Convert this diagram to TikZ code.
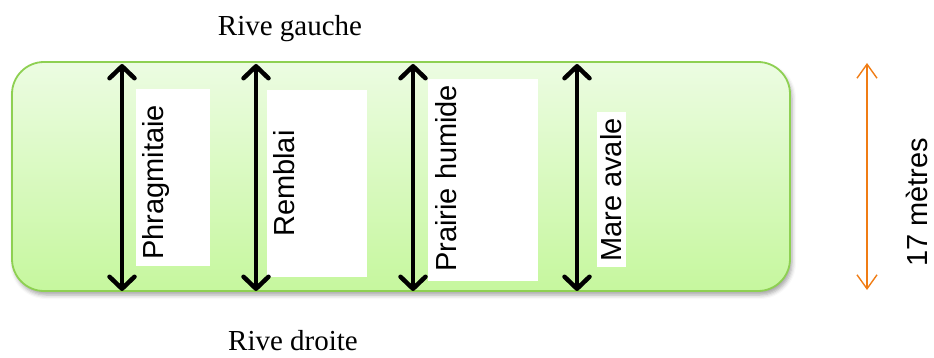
\documentclass[tikz,border=0pt]{standalone}
\usepackage{fontspec}
\setmainfont{Liberation Serif}
\newfontfamily\labelsans{Liberation Sans}
\usetikzlibrary{arrows.meta,shadows.blur}

\definecolor{bandtop}{RGB}{236,252,226}
\definecolor{bandbot}{RGB}{198,247,158}
\definecolor{bandrim}{RGB}{142,208,82}
\definecolor{spanorange}{RGB}{240,124,20}

\tikzset{
  band/.style={draw=bandrim, line width=1.8pt, rounded corners=32pt,
    top color=bandtop, bottom color=bandbot,
    blur shadow={shadow xshift=2pt, shadow yshift=-4pt,
                 shadow blur radius=4pt, shadow opacity=35}},
  zonearrow/.style={line width=4.5pt, line cap=round, line join=round,
    {Straight Barb[length=12pt,width=25pt,line cap=round,line join=round]}-{Straight Barb[length=12pt,width=25pt,line cap=round,line join=round]}},
  spanarrow/.style={draw=spanorange, line width=1.4pt,
    {Straight Barb[length=14pt,width=20pt]}-{Straight Barb[length=14pt,width=20pt]}},
  labelbox/.style={fill=white, draw=none},
  zonelabel/.style={rotate=90, anchor=base west, inner sep=0pt,
    font=\labelsans\fontsize{29}{30}\selectfont},
  bank/.style={anchor=base, inner sep=0pt, font=\fontsize{29}{30}\selectfont}
}

\begin{document}
\begin{tikzpicture}[x=1pt,y=-1pt]
  \useasboundingbox (0,0) rectangle (934,358);

  % the strip of land between the two banks
  \node[band, minimum width=778pt, minimum height=229pt, inner sep=0pt]
    (strip) at (401,176.5) {};

  % white panels behind the zone names
  \fill[labelbox] (136,89) rectangle (210,266);
  \fill[labelbox] (267,90) rectangle (367,277);
  \fill[labelbox] (428,79) rectangle (538,281);
  \fill[labelbox] (597,112) rectangle (626,267);

  % ends of the zone arrows
  \coordinate (phT) at (122,64);  \coordinate (phB) at (122,291);
  \coordinate (reT) at (256,64);  \coordinate (reB) at (256,291);
  \coordinate (prT) at (413,64);  \coordinate (prB) at (413,291);
  \coordinate (maT) at (577,64);  \coordinate (maB) at (577,291);
  \draw[zonearrow] (phT) -- (phB);
  \draw[zonearrow] (reT) -- (reB);
  \draw[zonearrow] (prT) -- (prB);
  \draw[zonearrow] (maT) -- (maB);

  % zone names
  \node[zonelabel] (phr) at (163,260) {Phragmitaie};
  \node[zonelabel] (rem) at (294,237) {Remblai};
  \node[zonelabel] (pra) at (456,272) {Prairie humide};
  \node[zonelabel] (mar) at (621,262) {Mare avale};

  % width of the strip
  \coordinate (spT) at (867,63);
  \coordinate (spB) at (867,290);
  \draw[spanarrow] (spT) -- (spB);
  \node[zonelabel] (span) at (927,267) {17 mètres};

  % banks
  \node[bank] (left)  at (290,36)  {Rive gauche};
  \node[bank] (right) at (293,350) {Rive droite};
\end{tikzpicture}
\end{document}
